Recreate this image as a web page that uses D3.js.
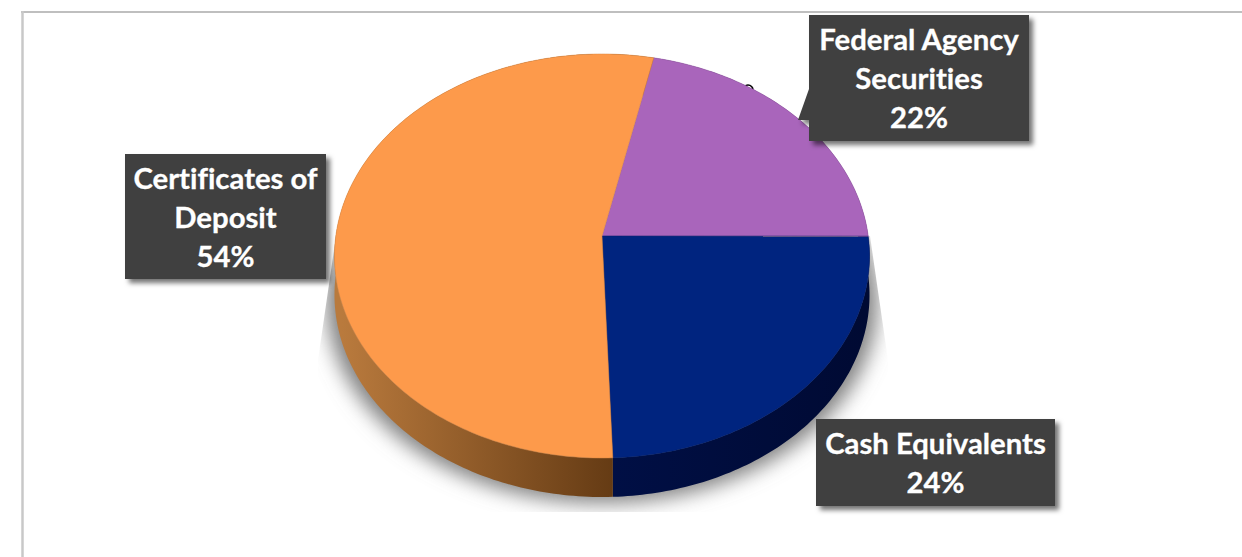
<!DOCTYPE html>
<html>
<head>
<meta charset="utf-8">
<script src="https://cdn.jsdelivr.net/npm/d3@7"></script>
<style>
  html, body { margin: 0; padding: 0; background: #fff; }
  svg { display: block; }
  .calloutText { font-family: Lato, "Open Sans", sans-serif; font-weight: 700; font-size: 29.3px; fill: #fff; stroke: #fff; stroke-width: 0.3px; text-anchor: middle; font-variant-ligatures: none; }
</style>
</head>
<body>
<div id="chart"></div>
<script>
/* DATA */

// pie order runs clockwise from the orange/purple edge
var categories = ["Federal Agency Securities", "Cash Equivalents", "Certificates of Deposit"];
var shares = [0.216, 0.244, 0.54];
var labelLines = [["Federal Agency", "Securities"], ["Cash Equivalents"], ["Certificates of", "Deposit"]];
var topColors = ["#a965bb", "#00247f", "#fd9a4b"];
var wallLeftColors = ["#6b3f80", "#000f45", "#b97a3d"];
var wallRightColors = ["#6b3f80", "#000a33", "#653b14"];

/* LAYOUT */

var w = 1242;
var h = 557;
var apexX = 602;
var apexY = 236;
var halfWidth = 266.2;
var depth = 39;
var startDeg = 12.3;

// box = [left, top, right, bottom]
var boxes = [[809, 15, 1029, 141], [816, 419, 1055, 506], [125, 154, 326, 279]];

var svg = d3.select("#chart").append("svg")
            .attr("width", w)
            .attr("height", h);

var defs = svg.append("defs");

defs.append("filter")
    .attr("id", "boxShadow")
    .attr("x", "-10%").attr("y", "-10%")
    .attr("width", "125%").attr("height", "130%")
    .append("feDropShadow")
    .attr("dx", 4).attr("dy", 4)
    .attr("stdDeviation", 2.5)
    .attr("flood-color", "#000")
    .attr("flood-opacity", 0.55);

defs.append("filter")
    .attr("id", "pieBlur")
    .attr("x", "-20%").attr("y", "-20%")
    .attr("width", "140%").attr("height", "140%")
    .append("feGaussianBlur")
    .attr("stdDeviation", 10);

defs.append("clipPath")
    .attr("id", "shadowClip")
    .append("polygon")
    .attr("points", "336,236 318,360 318,512 888,512 888,360 870,236");

/* PIE GEOMETRY */

// the disc leans back, so a point on the unit circle goes through a perspective map
function project(angle, yShift){
  var ux = Math.sin(angle);
  var uy = -Math.cos(angle);
  var k = 1 - 0.099 * uy;
  return [apexX + halfWidth * ux / k, (apexY + 176.65 * uy) / k + yShift];
}

var pie = d3.pie()
            .sort(null)
            .value(function(d){ return d; })
            .startAngle(startDeg * Math.PI / 180)
            .endAngle((startDeg + 360) * Math.PI / 180);

var slices = pie(shares);
var line = d3.line();

function arcPoints(d, yShift){
  var steps = Math.ceil((d.endAngle - d.startAngle) * 60);
  return d3.range(steps + 1).map(function(i){
    return project(d.startAngle + (d.endAngle - d.startAngle) * i / steps, yShift);
  });
}

function topPath(d){
  return line([[apexX, apexY]].concat(arcPoints(d, 0))) + "Z";
}

function wallPath(d){
  return line(arcPoints(d, 0).concat(arcPoints(d, depth).reverse())) + "Z";
}

/* SHADOW */

var wholeDisc = d3.range(361).map(function(a){ return project(a * Math.PI / 180, depth + 6); });

svg.append("g")
   .attr("clip-path", "url(#shadowClip)")
   .append("path")
   .attr("d", line(wholeDisc) + "Z")
   .attr("transform", "translate(" + apexX + ",0) scale(1.03,1) translate(" + (-apexX) + ",0)")
   .attr("fill", "#808080")
   .attr("filter", "url(#pieBlur)");

/* stray ring poking out from behind the pie */

svg.append("circle")
   .attr("cx", 748)
   .attr("cy", 90)
   .attr("r", 5)
   .attr("fill", "none")
   .attr("stroke", "#000")
   .attr("stroke-width", 1.6);

/* PIE */

slices.forEach(function(d, i){
  var grad = defs.append("linearGradient")
                 .attr("id", "wall" + i)
                 .attr("gradientUnits", "userSpaceOnUse")
                 .attr("x1", i == 2 ? 342 : 613).attr("y1", 0)
                 .attr("x2", i == 2 ? 613 : 865).attr("y2", 0);
  grad.append("stop").attr("offset", 0).attr("stop-color", wallLeftColors[i]);
  grad.append("stop").attr("offset", 1).attr("stop-color", wallRightColors[i]);
});

svg.append("g")
   .selectAll("path")
   .data(slices)
   .enter()
   .append("path")
   .attr("d", wallPath)
   .attr("fill", function(d, i){ return "url(#wall" + i + ")"; });

svg.append("g")
   .selectAll("path")
   .data(slices)
   .enter()
   .append("path")
   .attr("d", topPath)
   .attr("fill", function(d, i){ return topColors[i]; })
   .attr("stroke", function(d, i){ return d3.color(topColors[i]).darker(0.4); })
   .attr("stroke-width", 0.5);

/* FRAME */

svg.append("line")
   .attr("x1", 21).attr("y1", 12).attr("x2", w).attr("y2", 12)
   .attr("stroke", "#bfbfbf").attr("stroke-width", 2);

svg.append("line")
   .attr("x1", 22.5).attr("y1", 11).attr("x2", 22.5).attr("y2", h)
   .attr("stroke", "#c8c8c8").attr("stroke-width", 2.5);

/* CALLOUTS */

var formatAsPercentage = d3.format(".0%");

var callouts = svg.append("g")
                  .selectAll("g")
                  .data(categories)
                  .enter()
                  .append("g")
                  .attr("class", "callout")
                  .attr("aria-label", function(d){ return d; });

callouts.append("path")
        .attr("d", function(d, i){
          var b = boxes[i];
          var outline = [[b[0], b[1]], [b[2], b[1]], [b[2], b[3]], [b[0], b[3]]];
          // only the first callout has a pointer, it leans towards its slice
          if(i == 0) outline = outline.concat([[b[0], b[1] + 105], [b[0] - 11, b[1] + 105], [b[0], b[1] + 74]]);
          return line(outline) + "Z";
        })
        .attr("fill", "#404040")
        .attr("filter", "url(#boxShadow)");

callouts.each(function(d, i){
  var b = boxes[i];
  var rows = labelLines[i].concat(formatAsPercentage(shares[i]));
  var top = (b[1] + b[3]) / 2 - (rows.length - 1) * 39 / 2 + 11;
  d3.select(this).selectAll("text")
    .data(rows)
    .enter()
    .append("text")
    .attr("class", "calloutText")
    .attr("x", (b[0] + b[2]) / 2)
    .attr("y", function(r, j){ return top + j * 39; })
    .text(function(r){ return r; });
});
</script>
</body>
</html>
